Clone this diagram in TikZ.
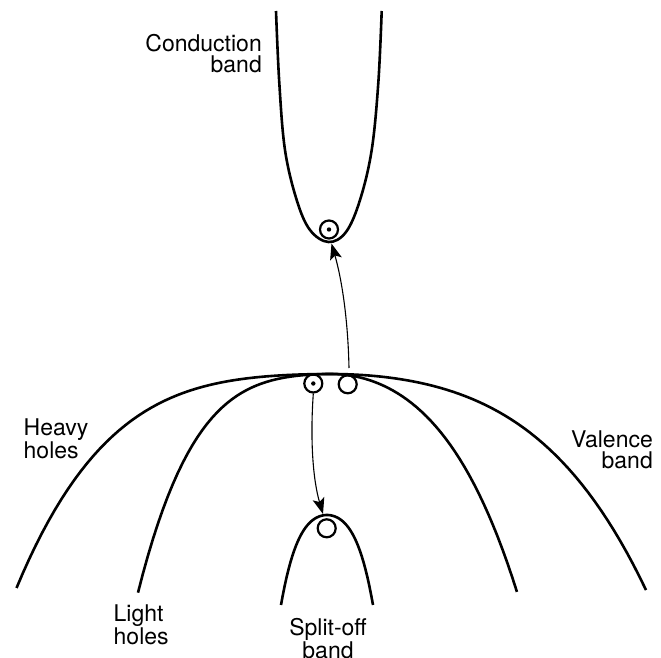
\documentclass[tikz,border=0pt]{standalone}
\usepackage{fontspec}
\setmainfont{TeX Gyre Heros}
\usetikzlibrary{arrows.meta}
\begin{document}
\begin{tikzpicture}[x=1pt,y=-1pt,
  band/.style={line width=2.6pt, line join=round},
  lbl/.style={font=\fontsize{23}{21}\selectfont, inner sep=0pt},
  carrier/.style={circle, draw, line width=2.2pt, minimum size=18pt, inner sep=0pt},
  jump/.style={line width=1.1pt, -{Stealth[length=16pt,width=12pt,inset=3.5pt]}}]
\useasboundingbox (0,0) rectangle (661,658);

% conduction band
\draw[band] plot[smooth, tension=0.6] coordinates {(276,11) (279.3,83) (285,150) (296.7,200) (310,230) (328.5,242) (346,232) (360,200) (371.7,150) (378.3,83) (381.7,11)};
% heavy holes
\draw[band] plot[domain=3.145:0, samples=50, variable=\u] ({331-100*\u}, {374+4.988*\u*\u+1.683*\u*\u*\u*\u})
  -- plot[domain=0:3.15, samples=50, variable=\u] ({331+100*\u}, {374+10.2*\u*\u+1.166*\u*\u*\u*\u});
% light holes
\draw[band] plot[domain=1.93:0, samples=40, variable=\u] ({331-100*\u}, {374+14*\u*\u+12*\u*\u*\u*\u})
  -- plot[domain=0:1.86, samples=40, variable=\u] ({331+100*\u}, {374+40.58*\u*\u+6.485*\u*\u*\u*\u});
% split-off band
\draw[band] plot[domain=-4.6:4.6, samples=50, variable=\v] ({327+10*\v}, {515+2.306*\v*\v+0.092*\v*\v*\v*\v});

% labels
\node[lbl, anchor=north east, align=right] (cbl) at (262,34.5) {Conduction\\band};
\node[lbl, anchor=north west, align=left] (hh) at (23.5,419) {Heavy\\holes};
\node[lbl, anchor=north east, align=right] (vb) at (653,430.5) {Valence\\band};
\node[lbl, anchor=north west, align=left] (lh) at (113.5,604.5) {Light\\holes};
\node[lbl, anchor=north, align=center] (so) at (328,618) {Split-off\\band};

% carriers
\node[carrier] (e1) at (329,229.5) {};
\fill (e1.center) circle (2.2pt);
\node[carrier] (h1) at (313.3,383.5) {};
\fill (h1.center) circle (2.2pt);
\node[carrier] (h2) at (347.7,384.3) {};
\node[carrier] (h3) at (326.7,528.3) {};

% transitions
\coordinate (vbtop) at (349,368);
\coordinate (cbmin) at (331.5,243.5);
\coordinate (somax) at (323,514);
\draw[jump] (vbtop) .. controls (348,320) and (342,280) .. (cbmin);
\draw[jump] (h1.south) .. controls (310,440) and (313,480) .. (somax);
\end{tikzpicture}
\end{document}
